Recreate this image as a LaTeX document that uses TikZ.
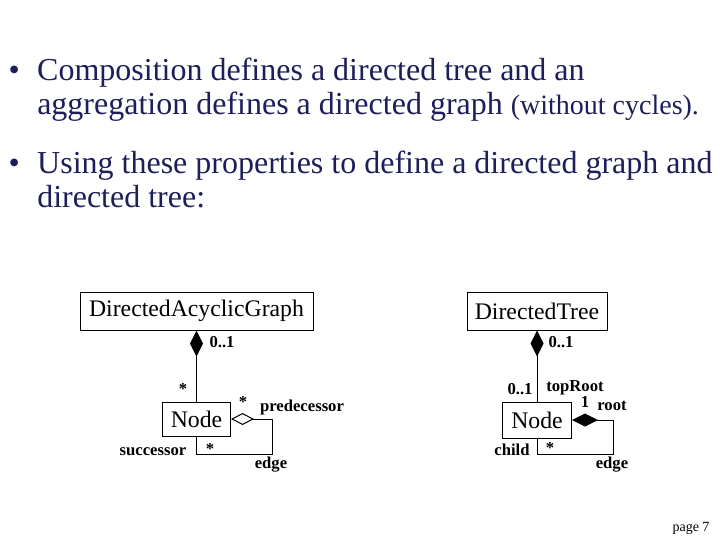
\documentclass[tikz,border=0pt]{standalone}
\usepackage{fontspec}
\setmainfont{Liberation Serif}
\usetikzlibrary{arrows.meta,positioning,shapes.geometric,calc}
\definecolor{mNavy}{RGB}{30,30,90}
\newcommand{\bulletmark}{\llap{\textbullet\hspace{13pt}}}
\tikzset{
classbox/.style={rectangle,draw=black,line width=0.75pt,inner sep=0pt,minimum height=28.5pt,font=\fontsize{17.8}{20}\selectfont},
mult/.style={inner sep=0pt,font=\bfseries\fontsize{12.5}{14}\selectfont},
bullettext/.style={inner sep=0pt,anchor=north west,align=left,text=mNavy,font=\fontsize{24}{25.5}\selectfont},
comp/.style={{Diamond[length=19.5pt,width=9.75pt]}-,line width=0.75pt},
aggr/.style={{Diamond[open,fill=white,length=17.25pt,width=9pt]}-,line width=0.75pt}
}
\begin{document}
\begin{tikzpicture}[x=0.75pt,y=-0.75pt]
\fill[white] (0,0) rectangle (720,540);
\useasboundingbox (0,0) rectangle (720,540);
% bullet points
\node[bullettext] (t1) at (37,58) {\bulletmark Composition defines a directed tree and an\\aggregation defines a directed graph {\fontsize{21}{25.5}\selectfont (without cycles).}};
\node[bullettext] (t2) at (37,151) {\bulletmark Using these properties to define a directed graph and\\directed tree:};
% left diagram
\node[classbox,minimum width=174.75pt] (dag) at (196.5,311) {DirectedAcyclicGraph};
\node[classbox,below=53.25pt of dag,minimum width=51pt,minimum height=25.5pt] (gnode) {Node};
\coordinate (gloop) at (272,454);
\draw[comp] (dag.south) -- (gnode.north);
\draw[aggr] (gnode.east) -| (gloop) -| (gnode.south);
\node[mult] (gm1) at (222,342) {0..1};
\node[mult] (gm2) at (183,389) {*};
\node[mult] (gm3) at (243,402) {*};
\node[mult] (gpre) at (302,407) {predecessor};
\node[mult] (gsuc) at (153,452) {successor};
\node[mult] (gm4) at (210,449) {*};
\node[mult] (gedge) at (271,465) {edge};
% right diagram
\node[classbox,minimum width=105pt] (tree) at (537,311) {DirectedTree};
\node[classbox,below=53.25pt of tree,minimum width=51.75pt,minimum height=27pt] (tnode) {Node};
\coordinate (tloop) at (613,454);
\draw[comp] (tree.south) -- (tnode.north);
\draw[comp] (tnode.east) -| (tloop) -| (tnode.south);
\node[mult] (tm1) at (561,342) {0..1};
\node[mult] (tm2) at (520,389) {0..1};
\node[mult] (ttop) at (575,388) {topRoot};
\node[mult] (tm3) at (585,402) {1};
\node[mult] (troot) at (612,406) {root};
\node[mult] (tchild) at (512,450) {child};
\node[mult] (tm4) at (550,448) {*};
\node[mult] (tedge) at (612,465) {edge};
% page number
\node[inner sep=0pt,font=\fontsize{10.5}{12}\selectfont] (page) at (691,528) {page 7};
\end{tikzpicture}
\end{document}
